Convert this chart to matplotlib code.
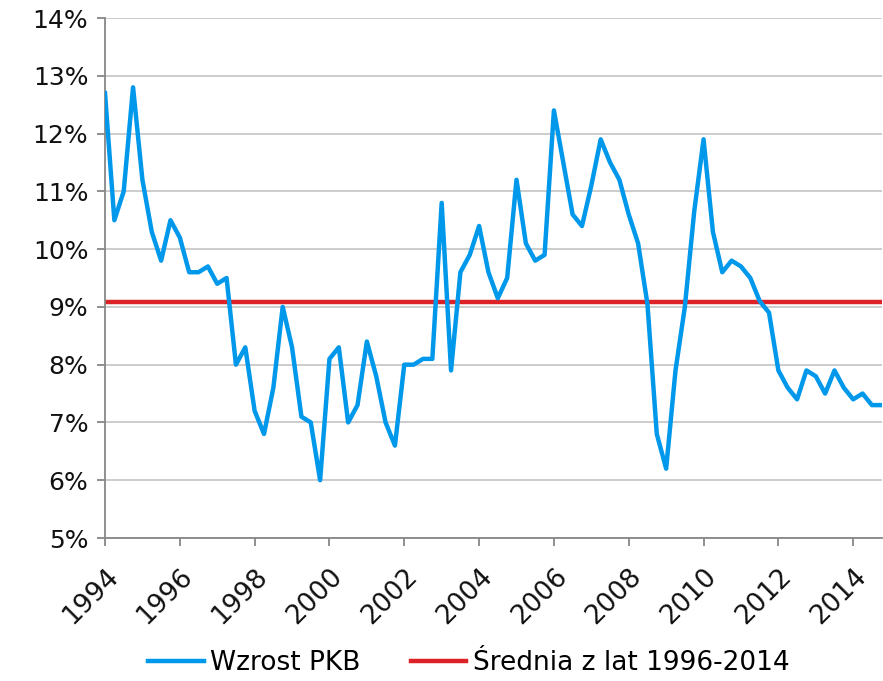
import matplotlib
matplotlib.use("Agg")
import matplotlib.pyplot as plt
import numpy as np

start_year = 1994
gdp_growth = [12.7, 10.5, 11.0, 12.8, 11.2, 10.3, 9.8, 10.5, 10.2, 9.6, 9.6, 9.7,
              9.4, 9.5, 8.0, 8.3, 7.2, 6.8, 7.6, 9.0, 8.3, 7.1, 7.0, 6.0,
              8.1, 8.3, 7.0, 7.3, 8.4, 7.8, 7.0, 6.6, 8.0, 8.0, 8.1, 8.1,
              10.8, 7.9, 9.6, 9.9, 10.4, 9.6, 9.15, 9.5, 11.2, 10.1, 9.8, 9.9,
              12.4, 11.5, 10.6, 10.4, 11.1, 11.9, 11.5, 11.2, 10.6, 10.1, 9.05, 6.8,
              6.2, 7.9, 9.0, 10.65, 11.9, 10.3, 9.6, 9.8, 9.7, 9.5, 9.1, 8.9,
              7.9, 7.6, 7.4, 7.9, 7.8, 7.5, 7.9, 7.6, 7.4, 7.5, 7.3, 7.3]
average_1996_2014 = 9.09
year_ticks = list(range(1994, 2015, 2))
y_ticks = list(range(5, 15))

series_label = "Wzrost PKB"
avg_label = "Średnia z lat 1996-2014"

x = start_year + np.arange(len(gdp_growth)) / 4.0

fig = plt.figure(figsize=(8.83, 6.81), dpi=100)
ax = fig.add_axes([105/883, 1 - 538/681, (882-105)/883, (538-18)/681])

blue = "#0098EA"
red = "#DC2127"
grid_c = "#C8C8C8"
axis_c = "#878787"

ax.plot(x, gdp_growth, color=blue, lw=3.2, label=series_label, solid_joinstyle="round", zorder=3)
ax.plot([x[0], x[-1]], [average_1996_2014]*2, color=red, lw=3.2, label=avg_label, zorder=2)

ax.set_xlim(x[0], x[-1] + 0.02)
ax.set_ylim(5, 14)
ax.set_yticks(y_ticks)
ax.set_yticklabels([f"{v}%" for v in y_ticks])
ax.set_xticks(year_ticks)
ax.set_xticklabels([str(y) for y in year_ticks], rotation=45, ha="right", rotation_mode="anchor")

ax.yaxis.grid(True, color=grid_c, lw=1.3)
ax.set_axisbelow(True)
for s in ["top", "right"]:
    ax.spines[s].set_visible(False)
for s in ["left", "bottom"]:
    ax.spines[s].set_color(axis_c)
    ax.spines[s].set_linewidth(1.3)
ax.tick_params(axis="both", colors=axis_c, length=6, width=1.3, direction="out",
               labelcolor="#111111", labelsize=18)
ax.tick_params(axis="x", pad=12, labelsize=19)
ax.tick_params(axis="y", pad=6)

leg = fig.legend(loc="center", frameon=False,
                 ncol=2, fontsize=19, handlelength=2.1, columnspacing=1.9, handletextpad=0.25)
leg.set_bbox_to_anchor((469/883, 1 - 663/681), transform=fig.transFigure)

fig.savefig("out.png", dpi=100)
